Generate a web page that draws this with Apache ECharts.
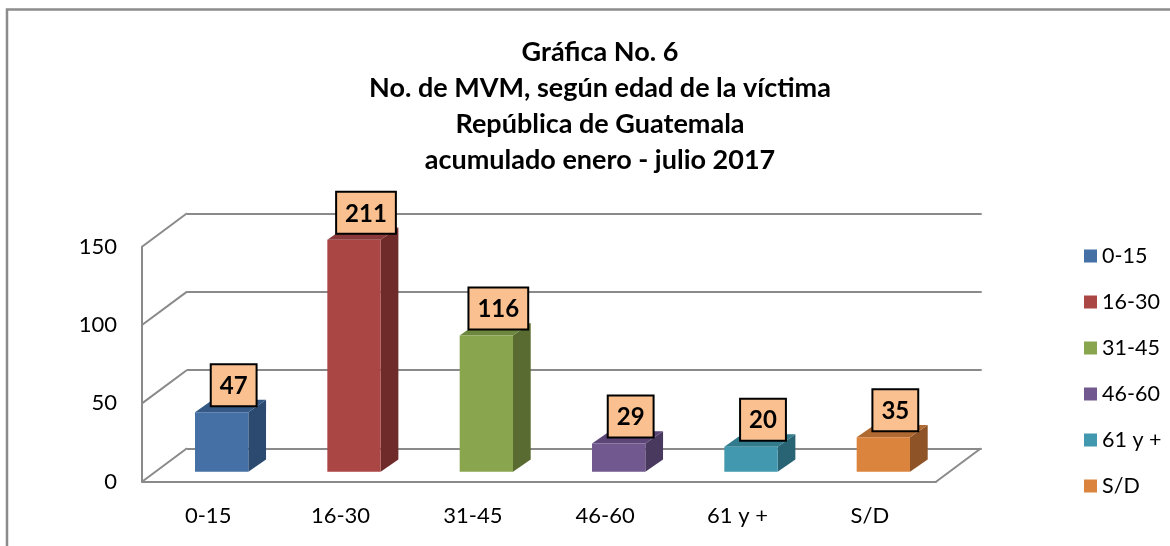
<!DOCTYPE html>
<html>
<head>
<meta charset="utf-8">
<script src="https://cdn.jsdelivr.net/npm/echarts@6/dist/echarts.min.js"></script>
<style>
  html, body { margin: 0; padding: 0; background: #fff; }
  #chart { width: 1170px; height: 546px; }
</style>
</head>
<body>
<div id="chart"></div>
<script>
// categories and values
const categories = ['0-15', '16-30', '31-45', '46-60', '61 y +', 'S/D']
// drawn bar heights (as they appear against the 0-150 axis)
const barHeights = [38, 148, 87, 18, 16, 22]
// numbers printed in the label boxes
const labelValues = [47, 211, 116, 29, 20, 35]
const yTicks = [0, 50, 100, 150]

const frontColors = ['#4470a5', '#aa4644', '#89a54e', '#71588f', '#4198af', '#db843d']
const sideColors = ['#2c4a70', '#6e2b2a', '#5a6b32', '#4a395e', '#286473', '#8e5427']
const topColors = ['#355985', '#89393a', '#6e873e', '#5b4677', '#327b8d', '#b06a31']

const FONT = 'Lato, "Noto Sans", sans-serif'
const GRID_COLOR = '#8a8a8a'
const WALL_DX = 45
const WALL_DY = -33.4
const BAR_DX = 17.7
const BAR_DY = -12.3

const chart = echarts.init(document.getElementById('chart'))

function makeBarRender(idx) {
  return function (params, api) {
    const cat = api.value(0)
    const base = api.coord([cat, 0])
    const top = api.coord([cat, api.value(1)])
    const w = api.size([1, 0])[0] * 0.403
    const x0 = base[0] - w / 2
    const x1 = base[0] + w / 2
    const y0 = base[1]
    const y1 = top[1]
    return {
      type: 'group',
      children: [
        {
          type: 'polygon',
          shape: { points: [[x1, y0], [x1 + BAR_DX, y0 + BAR_DY], [x1 + BAR_DX, y1 + BAR_DY], [x1, y1]] },
          style: { fill: sideColors[idx] }
        },
        {
          type: 'polygon',
          shape: { points: [[x0, y1], [x1, y1], [x1 + BAR_DX, y1 + BAR_DY], [x0 + BAR_DX, y1 + BAR_DY]] },
          style: { fill: topColors[idx] }
        },
        {
          type: 'rect',
          shape: { x: x0, y: y1, width: w, height: y0 - y1 },
          style: { fill: frontColors[idx] }
        },
        {
          type: 'text',
          x: base[0] + 12,
          y: y1 - 7,
          style: {
            text: String(labelValues[idx]),
            align: 'center',
            verticalAlign: 'bottom',
            font: 'bold 24px ' + FONT,
            lineHeight: 24,
            fill: '#000',
            backgroundColor: '#fac090',
            borderColor: '#000',
            borderWidth: 2,
            padding: [9, 8, 7, 8]
          }
        }
      ]
    }
  }
}

function renderWall(params, api) {
  const cs = params.coordSys
  const v = api.value(0)
  const p = api.coord([0, v])
  const x = cs.x
  const children = [{
    type: 'line',
    shape: { x1: x, y1: p[1], x2: x + WALL_DX, y2: p[1] + WALL_DY },
    style: { stroke: GRID_COLOR, lineWidth: 2 }
  }]
  if (v === 0) {
    const xr = cs.x + cs.width
    children.push({
      type: 'line',
      shape: { x1: xr, y1: p[1], x2: xr + WALL_DX, y2: p[1] + WALL_DY },
      style: { stroke: GRID_COLOR, lineWidth: 2 }
    })
  }
  return { type: 'group', children }
}

const barSeries = categories.map((name, i) => ({
  name: name,
  type: 'custom',
  xAxisIndex: 2,
  yAxisIndex: 2,
  itemStyle: { color: frontColors[i] },
  renderItem: makeBarRender(i),
  data: [[i, barHeights[i]]],
  z: 5
}))

const option = {
  animation: false,
  color: frontColors,
  graphic: [{
    type: 'rect',
    shape: { x: 7, y: 9.5, width: 1200, height: 600 },
    style: { fill: 'none', stroke: '#8c8c8c', lineWidth: 2.5 },
    silent: true
  }],
  title: {
    text: 'Gráfica No. 6\nNo. de MVM, según edad de la víctima\nRepública de Guatemala\nacumulado enero - julio 2017',
    left: 595,
    top: 29,
    textAlign: 'center',
    textStyle: { fontFamily: FONT, fontWeight: 'bold', fontSize: 27, lineHeight: 36, color: '#000' }
  },
  legend: {
    orient: 'vertical',
    left: 1079,
    top: 240,
    itemWidth: 13,
    itemHeight: 13,
    itemGap: 24,
    icon: 'rect',
    data: categories,
    textStyle: { fontFamily: FONT, fontSize: 21.5, lineHeight: 21.5, color: '#000' }
  },
  grid: [
    { left: 142, top: 246.7, right: 234, bottom: 64.3 },
    { left: 187, top: 213.3, right: 188.3, bottom: 97.7 },
    { left: 155.5, top: 236.7, right: 220.5, bottom: 74.3 }
  ],
  xAxis: [
    {
      type: 'category',
      gridIndex: 0,
      data: categories,
      axisLine: { lineStyle: { color: GRID_COLOR, width: 2 } },
      axisTick: { show: false },
      axisLabel: { fontFamily: FONT, fontSize: 22, color: '#000', margin: 23 }
    },
    { type: 'category', gridIndex: 1, data: categories, show: false },
    { type: 'category', gridIndex: 2, data: categories, show: false }
  ],
  yAxis: [
    {
      type: 'value',
      gridIndex: 0,
      min: 0,
      max: 150,
      interval: 50,
      axisLine: { show: true, lineStyle: { color: GRID_COLOR, width: 2 } },
      axisTick: { show: false },
      splitLine: { show: false },
      axisLabel: { fontFamily: FONT, fontSize: 22, color: '#000', margin: 25 }
    },
    {
      type: 'value',
      gridIndex: 1,
      min: 0,
      max: 150,
      interval: 50,
      axisLine: { show: false },
      axisTick: { show: false },
      axisLabel: { show: false },
      splitLine: { show: true, lineStyle: { color: GRID_COLOR, width: 2 } }
    },
    { type: 'value', gridIndex: 2, min: 0, max: 150, show: false }
  ],
  series: [
    {
      name: 'walls',
      type: 'custom',
      xAxisIndex: 0,
      yAxisIndex: 0,
      renderItem: renderWall,
      data: yTicks.map((v) => [v]),
      encode: { y: 0 },
      silent: true,
      z: 1
    },
    ...barSeries
  ]
}

chart.setOption(option)
</script>
</body>
</html>
